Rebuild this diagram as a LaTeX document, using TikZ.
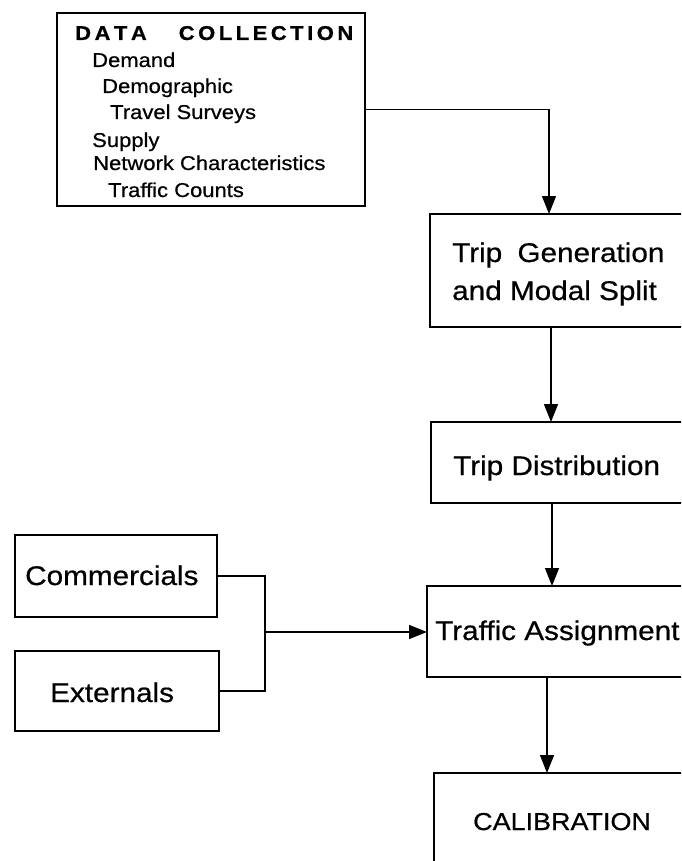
\documentclass[tikz,border=0pt]{standalone}
\usepackage{fontspec}
\setmainfont[FakeStretch=1.1, FakeBold=0.6]{Liberation Sans}
\usetikzlibrary{arrows.meta}
\newcommand\lsp{\hspace{3.5pt}}
\begin{document}
\begin{tikzpicture}[x=1pt,y=-1pt,
 box/.style={draw, line width=1.6pt, rectangle, inner sep=0pt, outer sep=0pt, anchor=north west},
 big/.style={inner sep=0pt, anchor=base west, font=\fontsize{27}{32}\selectfont},
 small/.style={inner sep=0pt, anchor=base west, font=\fontsize{20}{24}\selectfont},
 link/.style={line width=1.4pt},
 arr/.style={link, -{Triangle[width=14pt,length=18pt]}}]
\useasboundingbox (0,0) rectangle (681,861);
\fill[white] (0,0) rectangle (681,861);
\clip (0,0) rectangle (681,861);

% boxes
\node[box, minimum width=308pt, minimum height=193pt] (data) at (57,13) {};
\node[box, minimum width=290pt, minimum height=113pt] (tg) at (430,214) {};
\node[box, minimum width=290pt, minimum height=81pt] (td) at (431,422) {};
\node[box, minimum width=295pt, minimum height=91pt] (ta) at (427,586) {};
\node[box, minimum width=290pt, minimum height=130pt] (cal) at (434,773) {};
\node[box, minimum width=202pt, minimum height=82pt] (com) at (15,535) {};
\node[box, minimum width=204pt, minimum height=80pt] (ext) at (15,651) {};

% texts
\node[small, font=\fontsize{20}{24}\selectfont\bfseries] (t0) at (75,40) {D\lsp A\lsp T\lsp A\hspace{32pt}C\lsp O\lsp L\lsp L\lsp E\lsp C\lsp T\lsp I\lsp O\lsp N};
\node[small] (t1) at (92,67) {Demand};
\node[small] (t2) at (102,93) {Demographic};
\node[small] (t3) at (110,119) {Travel Surveys};
\node[small] (t4) at (92,147) {Supply};
\node[small] (t5) at (93,170) {Network Characteristics};
\node[small] (t6) at (108,197) {Traffic Counts};

\node[big] (g1) at (452,262) {Trip\hspace{7pt} Generation};
\node[big] (g2) at (452,300) {and Modal Split};
\node[big] (d1) at (453,475) {Trip Distribution};
\node[big] (a1) at (435,640) {Traffic Assignment};
\node[big, font=\fontsize{24.5}{29}\selectfont] (c1) at (473,830) {CALIBRATION};
\node[big] (m1) at (25,585) {Commercials};
\node[big] (e1) at (50,702) {Externals};

% connectors
\draw[arr] (data.east) -| ([xshift=119pt]tg.north west);
\draw[arr] ([xshift=121pt]tg.south west) -- ([xshift=120pt]td.north west);
\draw[arr] ([xshift=121pt]td.south west) -- ([xshift=125pt]ta.north west);
\draw[arr] ([xshift=120pt]ta.south west) -- ([xshift=113pt]cal.north west);
\coordinate (jn) at (265,632);
\draw[link] (com.east) -| (jn) |- (ext.east);
\draw[arr] (jn) -- (jn -| ta.west);
\end{tikzpicture}
\end{document}
